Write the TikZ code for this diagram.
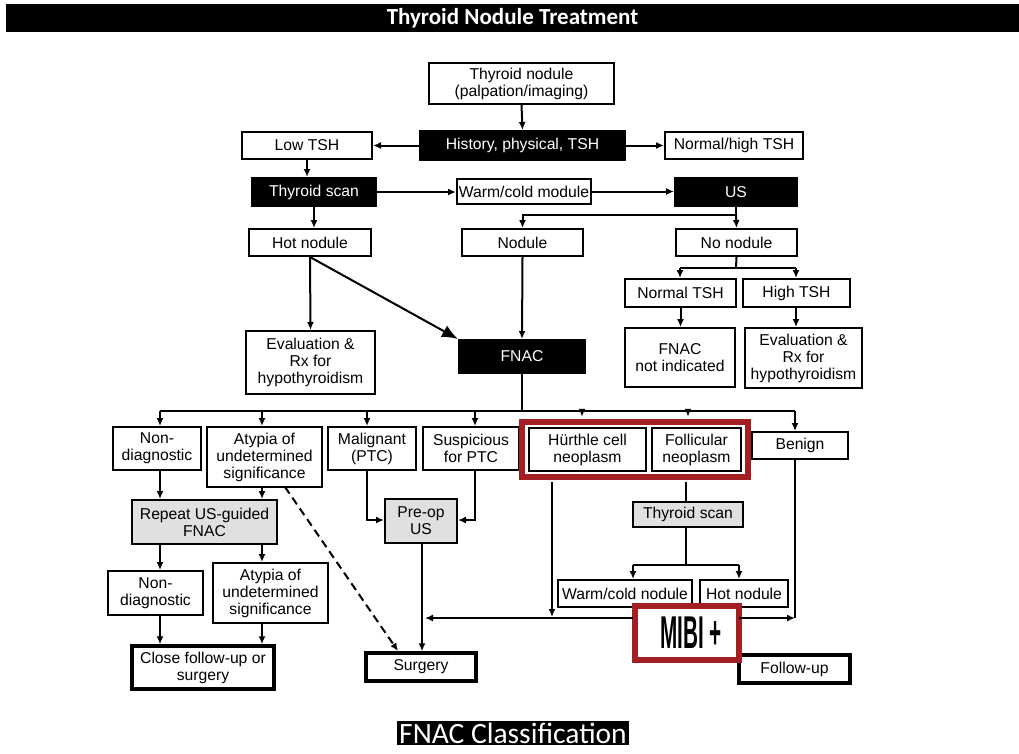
\documentclass[tikz,border=0pt]{standalone}
\usepackage{fontspec}
\setmainfont{Liberation Sans}
\newfontfamily\calib{Carlito}
\usetikzlibrary{arrows.meta,calc}
\definecolor{redbox}{HTML}{A31F24}
\definecolor{grayfill}{HTML}{E0E0E0}
\newcommand\bx[7]{\node[#6, minimum width={(#4-#2)*1pt}, minimum height={(#5-#3)*1pt}] (#1) at ({(#2+#4)/2},{(#3+#5)/2}) {#7};}
\tikzset{
  nbox/.style={draw, line width=2pt, fill=white, inner sep=0pt, align=center, font=\fontsize{15.7}{17}\selectfont},
  blk/.style={nbox, fill=black, text=white},
  gry/.style={nbox, fill=grayfill},
  thk/.style={nbox, line width=3.5pt},
  redfr/.style={draw=redbox, line width=5.5pt, inner sep=0pt},
  arr/.style={-{Latex[length=8pt,width=7pt]}, line width=2pt},
  bigarr/.style={-{Latex[length=16pt,width=13pt]}, line width=2pt},
  ln/.style={line width=2pt},
}
\begin{document}
\begin{tikzpicture}[x=1pt,y=-1pt]
\fill[white] (0,0) rectangle (1019,753);
\useasboundingbox (0,0) rectangle (1019,753);
\node[fill=black, minimum width=1013pt, minimum height=28pt, inner sep=0pt, text=white, font=\calib\bfseries\fontsize{23}{26}\selectfont] (title) at (512.5,18) {Thyroid Nodule Treatment};
\node[fill=black, text=white, inner sep=2pt, font=\calib\fontsize{29.5}{31}\selectfont] (cls) at (513,733) {FNAC Classification};

% top part
\bx{tn}{429}{63}{614}{104}{nbox}{Thyroid nodule\\(palpation/imaging)}
\bx{hist}{420}{131}{625}{160}{blk}{History, physical, TSH}
\bx{low}{242}{132}{372}{159}{nbox}{Low TSH}
\bx{nh}{665}{132}{803}{159}{nbox}{Normal/high TSH}
\bx{ts}{252}{178}{376}{206}{blk}{Thyroid scan}
\bx{wc}{457}{179}{591}{204}{nbox}{Warm/cold module}
\bx{us}{675}{178}{797}{206}{blk}{US}
\bx{hot}{249}{229}{371}{256}{nbox}{Hot nodule}
\bx{nod}{462}{229}{583}{256}{nbox}{Nodule}
\bx{nonod}{676}{229}{797}{256}{nbox}{No nodule}
\bx{ntsh}{625}{279}{736}{307}{nbox}{Normal TSH}
\bx{htsh}{743}{279}{850}{307}{nbox}{High TSH}
\bx{evl}{246}{331}{375}{394}{nbox}{Evaluation \&\\Rx for\\hypothyroidism}
\bx{fnac}{459}{340}{585}{373}{blk}{FNAC}
\bx{fni}{625}{328}{735}{387}{nbox}{FNAC\\not indicated}
\bx{evr}{745}{328}{862}{388}{nbox}{Evaluation \&\\Rx for\\hypothyroidism}

% classification
\bx{nd1}{113}{427}{201}{470}{nbox}{Non-\\diagnostic}
\bx{aus1}{207}{427}{322}{487}{nbox}{Atypia of\\undetermined\\significance}
\bx{mal}{328}{427}{416}{470}{nbox}{Malignant\\(PTC)}
\bx{sus}{423}{427}{519}{470}{nbox}{Suspicious\\for PTC}
\bx{hur}{529}{428}{646}{471}{nbox}{Hürthle cell\\neoplasm}
\bx{fol}{652}{428}{741}{471}{nbox}{Follicular\\neoplasm}
\bx{redf}{522}{422}{748}{477}{redfr}{}
\bx{ben}{752}{432}{848}{459}{nbox}{Benign}
\bx{rep}{132}{500}{277}{544}{gry}{Repeat US-guided\\FNAC}
\bx{pre}{385}{499}{457}{543}{gry}{Pre-op\\US}
\bx{ts2}{633}{502}{743}{527}{gry}{Thyroid scan}
\bx{nd2}{108}{571}{203}{615}{nbox}{Non-\\diagnostic}
\bx{aus2}{213}{563}{328}{623}{nbox}{Atypia of\\undetermined\\significance}
\bx{wcn}{558}{580}{692}{607}{nbox}{Warm/cold nodule}
\bx{hot2}{700}{580}{788}{607}{nbox}{Hot nodule}
\bx{close}{132}{646}{274}{689}{thk}{Close follow-up or\\surgery}
\bx{surg}{366}{653}{476}{681}{thk}{Surgery}
\bx{fu}{739}{655}{850}{683}{thk}{Follow-up}
\bx{mibi}{636}{607}{738}{659}{nbox}{\hspace*{8pt}\fontsize{46}{46}\selectfont\bfseries\scalebox{0.45}[1]{MIBI +}}
\draw[redbox, line width=5.5pt] (mibi.north west) rectangle (mibi.south east);

% connectors top
\draw[arr] (tn.south) -- (hist.north);
\draw[arr] (hist.west) -- (low.east);
\draw[arr] (hist.east) -- (nh.west);
\draw[arr] (low.south) -- (low.south |- ts.north);
\draw[arr] (ts.east) -- (ts.east -| wc.west);
\draw[arr] (wc.east) -- (wc.east -| us.west);
\coordinate (usb) at (736,215);
\draw[ln] (us.south) -- (usb);
\draw[arr] (usb) -| (nod.north);
\draw[arr] (usb) -- (nonod.north);
\draw[arr] (ts.south) -- (ts.south |- hot.north);
\draw[arr] (hot.south) -- (evl.north);
\draw[bigarr] (hot.south) -- (fnac.north west);
\draw[arr] (nod.south) -- (fnac.north);
\coordinate (nnb) at (736,268);
\draw[ln] (nonod.south) -- (nnb);
\coordinate (nnl) at (680,268);
\coordinate (nnr) at (796,268);
\draw[ln] (nnl) -- (nnr);
\draw[arr] (nnl) -- (nnl |- ntsh.north);
\draw[arr] (nnr) -- (nnr |- htsh.north);
\draw[arr] (ntsh.south) -- (ntsh.south |- fni.north);
\draw[arr] (nnr |- htsh.south) -- (nnr |- evr.north);

% bus from FNAC
\coordinate (bus) at (522,411);
\coordinate (b1) at (160,411);
\coordinate (b2) at (262,411);
\coordinate (b3) at (367,411);
\coordinate (b4) at (475,411);
\coordinate (b5) at (582,411);
\coordinate (b6) at (688,411);
\coordinate (b7) at (795,411);
\draw[ln] (fnac.south) -- (bus);
\draw[ln] (b1) -- (b7);
\draw[arr] (b1) -- (b1 |- nd1.north);
\draw[arr] (b2) -- (b2 |- aus1.north);
\draw[arr] (b3) -- (b3 |- mal.north);
\draw[arr] (b4) -- (b4 |- sus.north);
\draw[arr, shorten >=2.5pt] (b5) -- (b5 |- redf.north);
\draw[arr, shorten >=2.5pt] (b6) -- (b6 |- redf.north);
\draw[arr] (b7) -- (b7 |- ben.north);

% left column
\draw[arr] (b1 |- nd1.south) -- (b1 |- rep.north);
\draw[arr] (b2 |- aus1.south) -- (b2 |- rep.north);
\draw[arr] (b1 |- rep.south) -- (b1 |- nd2.north);
\draw[arr] (b2 |- rep.south) -- (b2 |- aus2.north);
\draw[arr] (b1 |- nd2.south) -- (b1 |- close.north);
\draw[arr] (b2 |- aus2.south) -- (b2 |- close.north);
\coordinate (dsh) at (285,487);
\draw[arr, dashed, dash pattern=on 8pt off 5pt] (dsh) -- (398,651);

% pre-op
\coordinate (pm) at (367,520);
\coordinate (ps) at (475,520);
\draw[arr] (b3 |- mal.south) -- (pm) -- (pm -| pre.west);
\draw[arr] (b4 |- sus.south) -- (ps) -- (ps -| pre.east);
\coordinate (pc) at (422,543);
\draw[arr] (pc) -- (pc |- surg.north);

% right part
\coordinate (hl) at (552,617);
\draw[arr, shorten <=2.5pt] (hl |- redf.south) -- (hl);
\coordinate (fl) at (686,478);
\draw[ln, shorten <=2.5pt] (fl |- redf.south) -- (fl |- ts2.north);
\coordinate (tsb) at (686,565);
\draw[ln] (fl |- ts2.south) -- (tsb);
\coordinate (tsl) at (633,565);
\coordinate (tsr) at (739,565);
\draw[ln] (tsl) -- (tsr);
\draw[arr] (tsl) -- (tsl |- wcn.north);
\draw[arr] (tsr) -- (tsr |- hot2.north);
\coordinate (hy) at (633,618);
\coordinate (surgl) at (425,618);
\draw[arr] (hy) -- (surgl);
\coordinate (bl) at (795,459);
\coordinate (br) at (795,618);
\draw[ln] (bl) -- (br);
\draw[arr] (mibi.east |- br) -- (br);
\end{tikzpicture}
\end{document}
